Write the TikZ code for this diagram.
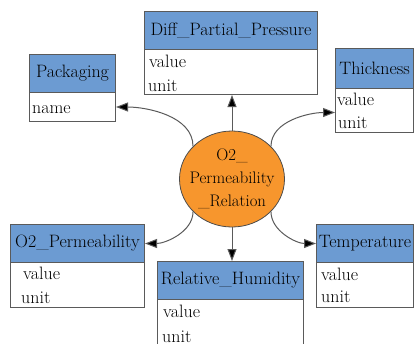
\documentclass[tikz,border=0pt]{standalone}
\usetikzlibrary{arrows.meta,shapes.geometric}
\definecolor{hdrblue}{RGB}{108,155,210}
\definecolor{relorange}{RGB}{247,150,45}
\definecolor{edgegray}{RGB}{90,90,90}
\tikzset{
  x=1bp, y=-1bp,
  every node/.style={font=\fontsize{18}{23}\selectfont},
  hdrbox/.style={draw=edgegray, fill=hdrblue, line width=1bp, inner sep=0pt, anchor=north west},
  bodybox/.style={draw=edgegray, fill=white, line width=1bp, inner sep=0pt, anchor=north west},
  attr/.style={anchor=base west, inner sep=0pt},
  relnode/.style={ellipse, draw=black!70, fill=relorange, line width=0.8bp, minimum width=105bp, minimum height=96bp, inner sep=0pt},
  reltext/.style={align=center, inner sep=0pt, font=\fontsize{16.8}{23}\selectfont},
  link/.style={draw=edgegray, line width=1bp, -{Triangle[length=12bp,width=9bp,fill=black]}}
}
\begin{document}
\begin{tikzpicture}
\useasboundingbox (0,0) rectangle (415,344);

% central relation: disc and its three-line label
\node[relnode] (rel) at (232,179) {};
\node[reltext] (rellabel) at (rel.center) {O2\_\\Permeability\\\_Relation};

% Packaging
\node[hdrbox, minimum width=86bp, minimum height=38bp] (pkgh) at (29,54) {Packaging};
\node[bodybox, minimum width=86bp, minimum height=29bp] (pkgb) at (29,92) {};
\node[attr] (pkgname) at (32,113) {name};

% Diff_Partial_Pressure
\node[hdrbox, minimum width=173bp, minimum height=38bp] (dph) at (144,11) {Diff\_Partial\_Pressure};
\node[bodybox, minimum width=173bp, minimum height=45bp] (dpb) at (144,49) {};
\node[attr] (dpval) at (149,67) {value};
\node[attr] (dpunit) at (148,91) {unit};

% Thickness
\node[hdrbox, minimum width=78bp, minimum height=40bp] (thh) at (335,48) {Thickness};
\node[bodybox, minimum width=78bp, minimum height=44bp] (thb) at (335,88) {};
\node[attr] (thval) at (337,105) {value};
\node[attr] (thunit) at (338,128) {unit};

% O2_Permeability
\node[hdrbox, minimum width=134bp, minimum height=38bp] (o2h) at (10,224) {O2\_Permeability};
\node[bodybox, minimum width=134bp, minimum height=45bp] (o2b) at (10,262) {};
\node[attr] (o2val) at (23,279) {value};
\node[attr] (o2unit) at (21,303) {unit};

% Relative_Humidity
\node[hdrbox, minimum width=146bp, minimum height=38bp] (rhh) at (157,261) {Relative\_Humidity};
\node[bodybox, minimum width=146bp, minimum height=60bp] (rhb) at (157,299) {};
\node[attr] (rhval) at (163,317) {value};
\node[attr] (rhunit) at (162,342) {unit};

% Temperature
\node[hdrbox, minimum width=97bp, minimum height=38bp] (tph) at (316,224) {Temperature};
\node[bodybox, minimum width=97bp, minimum height=45bp] (tpb) at (316,262) {};
\node[attr] (tpval) at (321,280) {value};
\node[attr] (tpunit) at (321,302) {unit};

% connectors
\draw[link] (rel.north) -- (rel.north |- dpb.south);
\draw[link] (rel.south) -- (rel.south |- rhh.north);
\draw[link] (rel.140) to[out=90,in=0,looseness=0.9] (pkgb.east);
\draw[link] (rel.40) to[out=90,in=180,looseness=0.9] ([yshift=-2bp]thb.west);
\draw[link] (rel.220) to[out=-90,in=0,looseness=0.9] (o2h.east);
\draw[link] (rel.320) to[out=-90,in=180,looseness=0.9] (tph.west);
\end{tikzpicture}
\end{document}
